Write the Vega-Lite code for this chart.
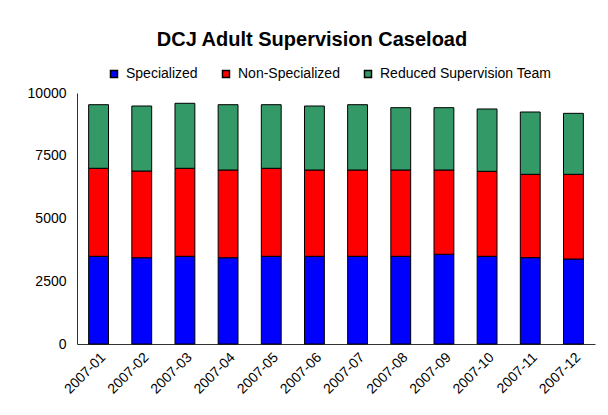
{
  "$schema": "https://vega.github.io/schema/vega-lite/v6.json",
  "autosize": {"type": "none"},
  "width": 518,
  "height": 251,
  "padding": {"left": 77, "top": 93, "right": 13, "bottom": 71},
  "background": "white",
  "title": {
    "text": "DCJ Adult Supervision Caseload",
    "font": "Liberation Sans",
    "fontSize": 20,
    "fontWeight": "bold",
    "color": "#000000",
    "anchor": "middle",
    "dx": -24,
    "offset": 17
  },
  "data": {
    "values": [
      {"month": "2007-01", "series": "Specialized", "rank": 1, "value": 3494},
      {"month": "2007-02", "series": "Specialized", "rank": 1, "value": 3438},
      {"month": "2007-03", "series": "Specialized", "rank": 1, "value": 3494},
      {"month": "2007-04", "series": "Specialized", "rank": 1, "value": 3438},
      {"month": "2007-05", "series": "Specialized", "rank": 1, "value": 3494},
      {"month": "2007-06", "series": "Specialized", "rank": 1, "value": 3494},
      {"month": "2007-07", "series": "Specialized", "rank": 1, "value": 3494},
      {"month": "2007-08", "series": "Specialized", "rank": 1, "value": 3494},
      {"month": "2007-09", "series": "Specialized", "rank": 1, "value": 3574},
      {"month": "2007-10", "series": "Specialized", "rank": 1, "value": 3494},
      {"month": "2007-11", "series": "Specialized", "rank": 1, "value": 3440},
      {"month": "2007-12", "series": "Specialized", "rank": 1, "value": 3386},
      {"month": "2007-01", "series": "Non-Specialized", "rank": 2, "value": 3506},
      {"month": "2007-02", "series": "Non-Specialized", "rank": 2, "value": 3454},
      {"month": "2007-03", "series": "Non-Specialized", "rank": 2, "value": 3506},
      {"month": "2007-04", "series": "Non-Specialized", "rank": 2, "value": 3494},
      {"month": "2007-05", "series": "Non-Specialized", "rank": 2, "value": 3506},
      {"month": "2007-06", "series": "Non-Specialized", "rank": 2, "value": 3438},
      {"month": "2007-07", "series": "Non-Specialized", "rank": 2, "value": 3438},
      {"month": "2007-08", "series": "Non-Specialized", "rank": 2, "value": 3438},
      {"month": "2007-09", "series": "Non-Specialized", "rank": 2, "value": 3358},
      {"month": "2007-10", "series": "Non-Specialized", "rank": 2, "value": 3386},
      {"month": "2007-11", "series": "Non-Specialized", "rank": 2, "value": 3320},
      {"month": "2007-12", "series": "Non-Specialized", "rank": 2, "value": 3374},
      {"month": "2007-01", "series": "Reduced Supervision Team", "rank": 3, "value": 2534},
      {"month": "2007-02", "series": "Reduced Supervision Team", "rank": 3, "value": 2590},
      {"month": "2007-03", "series": "Reduced Supervision Team", "rank": 3, "value": 2590},
      {"month": "2007-04", "series": "Reduced Supervision Team", "rank": 3, "value": 2602},
      {"month": "2007-05", "series": "Reduced Supervision Team", "rank": 3, "value": 2534},
      {"month": "2007-06", "series": "Reduced Supervision Team", "rank": 3, "value": 2550},
      {"month": "2007-07", "series": "Reduced Supervision Team", "rank": 3, "value": 2602},
      {"month": "2007-08", "series": "Reduced Supervision Team", "rank": 3, "value": 2483},
      {"month": "2007-09", "series": "Reduced Supervision Team", "rank": 3, "value": 2483},
      {"month": "2007-10", "series": "Reduced Supervision Team", "rank": 3, "value": 2483},
      {"month": "2007-11", "series": "Reduced Supervision Team", "rank": 3, "value": 2483},
      {"month": "2007-12", "series": "Reduced Supervision Team", "rank": 3, "value": 2430}
    ]
  },
  "mark": {"type": "bar", "stroke": "#000000", "strokeWidth": 1},
  "encoding": {
    "x": {
      "field": "month",
      "type": "ordinal",
      "scale": {"paddingInner": 0.54, "paddingOuter": 0.27},
      "axis": {
        "title": null,
        "labelAngle": -45,
        "labelFont": "Liberation Sans",
        "labelFontSize": 14,
        "labelColor": "#000000",
        "ticks": false,
        "labelPadding": 6,
        "domainColor": "#333333",
        "domainWidth": 1
      }
    },
    "y": {
      "field": "value",
      "type": "quantitative",
      "stack": "zero",
      "scale": {"domain": [0, 10000], "nice": false},
      "axis": {
        "title": null,
        "values": [0, 2500, 5000, 7500, 10000],
        "format": "d",
        "grid": false,
        "ticks": false,
        "labelPadding": 11,
        "labelFont": "Liberation Sans",
        "labelFontSize": 14,
        "labelColor": "#000000",
        "domainColor": "#333333",
        "domainWidth": 1
      }
    },
    "color": {
      "field": "series",
      "type": "nominal",
      "sort": ["Specialized", "Non-Specialized", "Reduced Supervision Team"],
      "scale": {
        "domain": ["Specialized", "Non-Specialized", "Reduced Supervision Team"],
        "range": ["#0000FF", "#FF0000", "#339966"]
      },
      "legend": {
        "title": null,
        "orient": "none",
        "direction": "horizontal",
        "legendX": 30,
        "legendY": -26,
        "symbolType": "square",
        "symbolSize": 49,
        "symbolOpacity": 1,
        "labelFont": "Liberation Sans",
        "labelFontSize": 14,
        "labelColor": "#000000",
        "labelOffset": 5,
        "labelLimit": 400,
        "columnPadding": 21,
        "encode": {
          "symbols": {
            "update": {
              "stroke": {"value": "#000000"},
              "strokeWidth": {"value": 1}
            }
          }
        }
      }
    },
    "order": {"field": "rank", "type": "quantitative"}
  },
  "config": {"view": {"stroke": null}}
}
